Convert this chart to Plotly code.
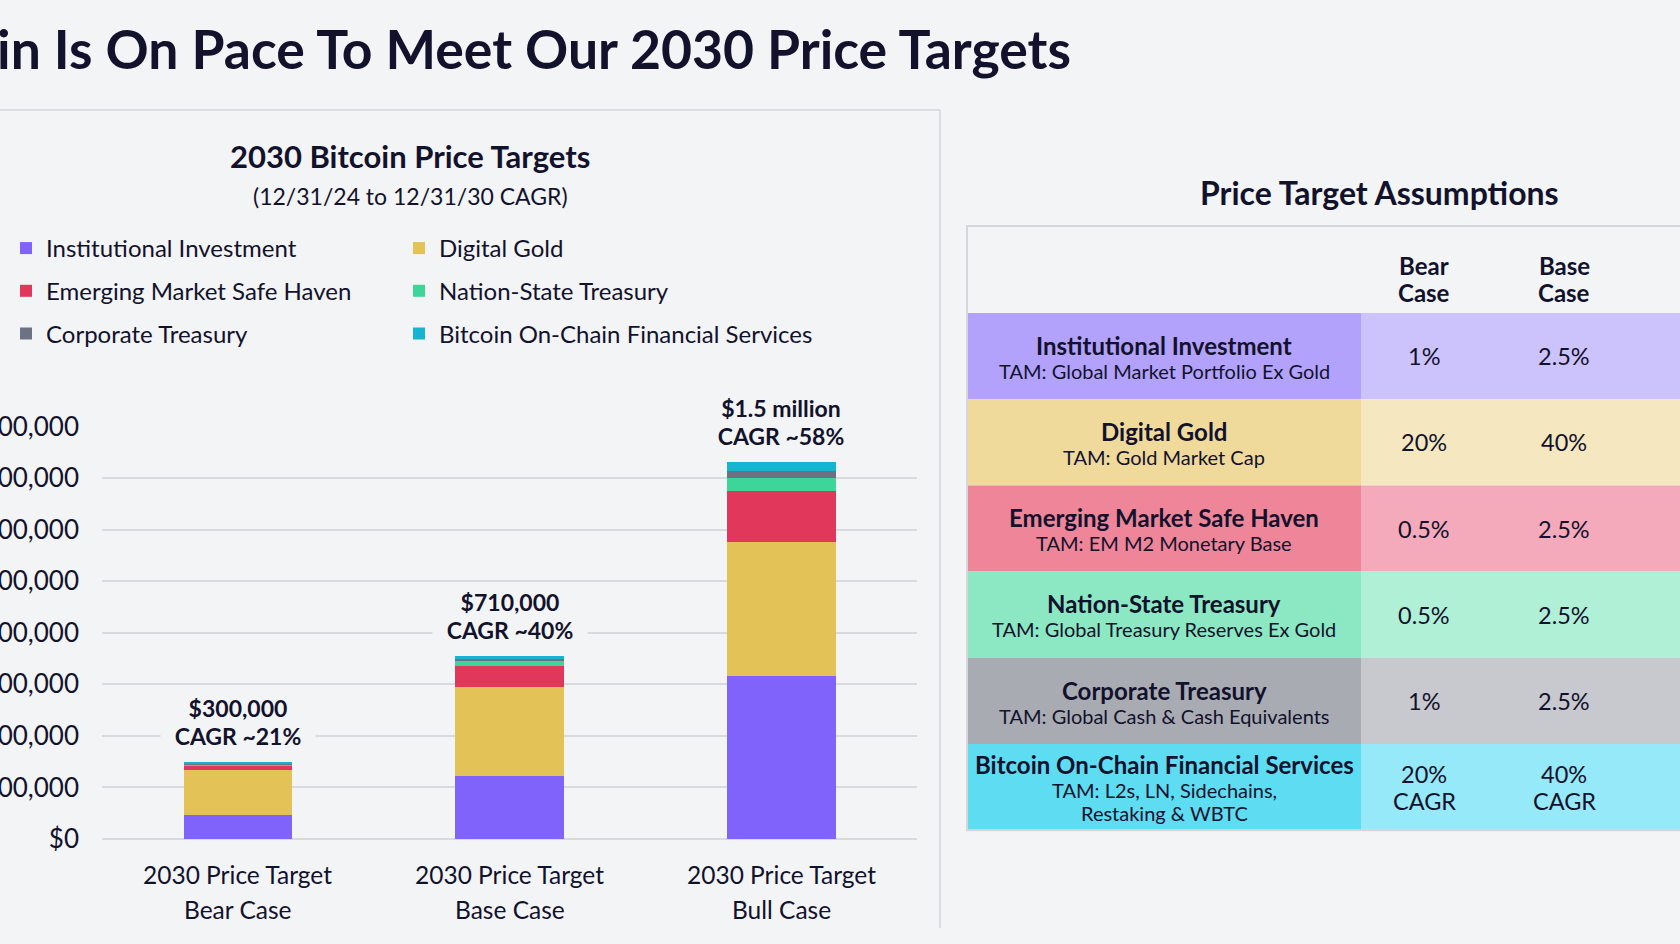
import plotly.graph_objects as go

W, H = 1680, 944
BG = "#f3f4f6"
INK = "#12122c"
FONT = "Lato"

# ---------------- data ----------------
categories = ["Bear Case", "Base Case", "Bull Case"]
category_prefix = "2030 Price Target"
series_names = [
    "Institutional Investment",
    "Digital Gold",
    "Emerging Market Safe Haven",
    "Nation-State Treasury",
    "Corporate Treasury",
    "Bitcoin On-Chain Financial Services",
]
series_colors = ["#7f63fb", "#e3c258", "#e1375b", "#3ed598", "#6c7283", "#17b4d2"]
institutional = [95000, 243000, 632000]
digital_gold = [172000, 346000, 518000]
em_safe_haven = [18000, 82000, 199000]
nation_state = [3000, 19000, 52000]
corporate = [4000, 8000, 27000]
onchain = [8000, 12000, 33000]
series_values = [institutional, digital_gold, em_safe_haven, nation_state, corporate, onchain]
target_labels = ["$300,000", "$710,000", "$1.5 million"]
cagr_labels = ["CAGR ~21%", "CAGR ~40%", "CAGR ~58%"]
y_ticks = [0, 200000, 400000, 600000, 800000, 1000000, 1200000, 1400000, 1600000]

table_header = ["Bear<br>Case", "Base<br>Case"]
table_titles = series_names
table_tams = [
    "TAM: Global Market Portfolio Ex Gold",
    "TAM: Gold Market Cap",
    "TAM: EM M2 Monetary Base",
    "TAM: Global Treasury Reserves Ex Gold",
    "TAM: Global Cash & Cash Equivalents",
    "TAM: L2s, LN, Sidechains,<br>Restaking & WBTC",
]
bear_case = ["1%", "20%", "0.5%", "0.5%", "1%", "20%<br>CAGR"]
base_case = ["2.5%", "40%", "2.5%", "2.5%", "2.5%", "40%<br>CAGR"]
label_fill = ["#b2a2fb", "#f0da9b", "#ef8599", "#8be8c3", "#a9abb3", "#5ddcf2"]
value_fill = ["#cdc3fc", "#f5e8c0", "#f5aabb", "#b0f0d6", "#c8c9ce", "#95e9f8"]


def px(x):
    return x / W


def py(y):
    return 1 - y / H


fig = go.Figure()

legend_of = ["legend", "legend2", "legend", "legend2", "legend", "legend2"]
for name, color, vals, lg in zip(series_names, series_colors, series_values, legend_of):
    fig.add_trace(go.Bar(
        x=categories, y=vals, name=name, marker=dict(color=color, line=dict(width=0)),
        legend=lg, legendgroup=name, hoverinfo="skip",
    ))

totals = [sum(v) for v in zip(*series_values)]

annotations = []


def ann(text, x, y, size, bold=False, xanchor="center", yanchor="middle", xref="paper", yref="paper", **kw):
    d = dict(text=f"<b>{text}</b>" if bold else text, x=x, y=y, xref=xref, yref=yref,
             xanchor=xanchor, yanchor=yanchor, showarrow=False,
             font=dict(family=FONT, size=size, color=INK))
    d.update(kw)
    annotations.append(d)


def ann_lines(text, x, y_center, size, spacing, bold=False):
    lines = text.split("<br>")
    n = len(lines)
    for k, line in enumerate(lines):
        yy = y_center + (k - (n - 1) / 2) * spacing
        ann(line, x, py(yy), size, bold=bold)


# page title (clipped on the left like the reference)
ann("Bitcoin Is On Pace To Meet Our 2030 Price Targets", px(1073), py(48), 53.5, bold=True, xanchor="right")
# chart titles
ann("2030 Bitcoin Price Targets", px(410), py(156), 31, bold=True)
ann("(12/31/24 to 12/31/30 CAGR)", px(410), py(196), 23)

# bar total labels and category labels
for cat, tot, t1, t2 in zip(categories, totals, target_labels, cagr_labels):
    ann(t1, cat, tot, 23, bold=True, xref="x", yref="y", yshift=54,
        bgcolor=BG, width=150, borderpad=2)
    ann(t2, cat, tot, 23, bold=True, xref="x", yref="y", yshift=26,
        bgcolor=BG, width=150, borderpad=2)
    ann(category_prefix, cat, py(874), 24.5, xref="x")
    ann(cat, cat, py(909), 24.5, xref="x")

# right panel
ann("Price Target Assumptions", px(1379), py(192), 32, bold=True)

shapes = []
# left panel border
shapes.append(dict(type="line", xref="paper", yref="paper", x0=0, x1=px(940), y0=py(110), y1=py(110),
                   line=dict(color="#dcdde1", width=2)))
shapes.append(dict(type="line", xref="paper", yref="paper", x0=px(940), x1=px(940), y0=py(110), y1=py(928),
                   line=dict(color="#dcdde1", width=2)))

# table
T_LEFT, T_SPLIT, T_RIGHT = 967, 1361, 1700
T_TOP, ROW0, ROW_H = 226, 313, 86.2
col_x = [1424, 1564]
for hx, htext in zip(col_x, table_header):
    ann_lines(htext, px(hx), 279, 24, 27.5, bold=True)
for i in range(len(table_titles)):
    top = ROW0 + i * ROW_H
    bot = top + ROW_H
    rc = (top + bot) / 2
    shapes.append(dict(type="rect", xref="paper", yref="paper", x0=px(T_LEFT), x1=px(T_SPLIT),
                       y0=py(top), y1=py(bot), fillcolor=label_fill[i], line=dict(width=0), layer="below"))
    shapes.append(dict(type="rect", xref="paper", yref="paper", x0=px(T_SPLIT), x1=px(T_RIGHT),
                       y0=py(top), y1=py(bot), fillcolor=value_fill[i], line=dict(width=0), layer="below"))
    n_sub = table_tams[i].count("<br>") + 1
    span = 25.5 + 23 * (n_sub - 1)
    ty = rc - span / 2 + 2
    ann(table_titles[i], px(1164), py(ty), 24, bold=True)
    sub_c = ty + 25.5 + 23 * (n_sub - 1) / 2
    ann_lines(table_tams[i], px(1164), sub_c, 20, 23)
    ann_lines(bear_case[i], px(col_x[0]), rc, 23.5, 27)
    ann_lines(base_case[i], px(col_x[1]), rc, 23.5, 27)

shapes.append(dict(type="rect", xref="paper", yref="paper", x0=px(T_LEFT), x1=px(T_RIGHT),
                   y0=py(T_TOP), y1=py(ROW0 + 6 * ROW_H), fillcolor="rgba(0,0,0,0)",
                   line=dict(color="#d6d7db", width=2)))

fig.update_layout(
    width=W, height=H,
    margin=dict(l=0, r=0, t=0, b=0),
    paper_bgcolor=BG, plot_bgcolor=BG,
    barmode="stack", bargap=0.6,
    font=dict(family=FONT, color=INK),
    showlegend=True,
    legend=dict(x=px(6), y=py(226), xanchor="left", yanchor="top", orientation="v",
                traceorder="grouped", tracegroupgap=8.5, bgcolor="rgba(0,0,0,0)",
                font=dict(family=FONT, size=24, color=INK)),
    legend2=dict(x=px(399), y=py(226), xanchor="left", yanchor="top", orientation="v",
                 traceorder="grouped", tracegroupgap=8.5, bgcolor="rgba(0,0,0,0)",
                 font=dict(family=FONT, size=24, color=INK)),
    xaxis=dict(domain=[px(102), px(917)], showticklabels=False, showgrid=False, zeroline=False,
               showline=False, ticks="", fixedrange=True, automargin=False),
    yaxis=dict(domain=[py(839), py(426.4)], range=[0, 1600000], tickvals=y_ticks,
               ticktext=[f"${v:,.0f}" for v in y_ticks], tickfont=dict(family=FONT, size=26, color=INK),
               showgrid=True, gridcolor="#d9dadd", gridwidth=2, zeroline=True, zerolinecolor="#d9dadd",
               zerolinewidth=2, showline=False, ticks="", ticklabelstandoff=22, automargin=False,
               fixedrange=True),
    annotations=annotations,
    shapes=shapes,
)

fig.write_html("out.html")
